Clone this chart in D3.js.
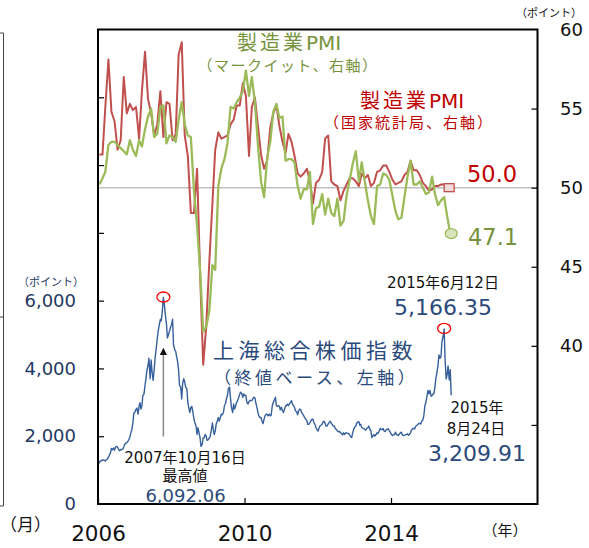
<!DOCTYPE html>
<html><head><meta charset="utf-8">
<script src="https://cdn.jsdelivr.net/npm/d3@7"></script>
<style>body{margin:0;background:#fff;} svg{display:block}</style>
</head><body><svg id="c" width="589" height="548"></svg>
<script>
// NBS manufacturing PMI, monthly Jan 2006 - Jul 2015
const nbsPMI = [
 52.1,52.1,55.1,58.1,54.8,54.2,52.4,53.0,57.0,54.7,55.3,54.9,
 55.1,53.1,56.1,58.6,55.6,54.7,53.3,54.0,56.1,53.2,55.4,55.3,
 53.0,53.4,58.4,59.2,53.3,52.0,48.4,48.4,51.2,44.6,38.8,41.2,
 45.3,49.0,52.4,53.5,53.1,53.2,53.3,54.0,54.3,55.2,55.2,56.6,
 55.8,52.0,55.1,55.7,53.9,52.1,51.2,51.7,53.8,54.7,55.2,53.9,
 52.9,52.2,53.4,52.9,52.0,50.9,50.7,50.9,51.2,50.4,49.0,50.3,
 50.5,51.0,53.1,53.3,50.4,50.2,50.1,49.2,49.8,50.2,50.6,50.6,
 50.4,50.1,50.9,50.6,50.8,50.1,50.3,51.0,51.1,51.4,51.4,51.0,
 50.5,50.2,50.3,50.4,50.8,51.0,51.7,51.1,51.1,50.8,50.3,50.1,
 49.8,49.9,50.1,50.1,50.2,50.2,50.0
];
// Markit manufacturing PMI, monthly Jan 2006 - Aug 2015
const markitPMI = [
 50.2,50.6,51.0,52.7,52.9,52.9,52.7,52.5,52.3,52.1,53.0,52.4,
 52.0,53.0,52.6,53.7,54.5,55.0,53.2,53.4,55.1,55.2,52.8,53.3,
 53.2,52.9,54.3,55.4,54.0,53.3,53.2,49.8,47.6,44.8,40.9,41.2,
 42.2,45.1,44.8,50.1,51.2,51.8,52.8,55.1,55.0,55.4,55.7,56.1,
 57.4,55.8,57.0,55.4,52.7,50.4,49.4,51.9,52.9,54.8,55.3,54.4,
 54.5,51.7,51.8,51.8,51.6,50.1,49.3,49.9,49.9,51.0,47.7,48.7,
 48.8,49.6,48.3,49.3,48.4,48.2,49.3,47.6,47.9,49.5,50.5,51.5,
 52.3,50.4,51.6,50.4,49.2,48.2,47.7,50.1,50.2,50.9,50.8,50.5,
 49.5,48.5,48.0,48.1,49.4,50.7,51.7,50.2,50.2,50.4,50.0,49.6,
 49.7,50.7,49.6,48.9,49.2,49.4,48.2,47.1
];
// Shanghai Composite close, three readings per month (~5th, ~15th, ~24th), Jan 2006 - Aug 2015
const stockIndex = [
 1180,1235,1258, 1290,1285,1300, 1290,1270,1298, 1330,1380,1440, 1500,1640,1600, 1650,1590,1672,
 1700,1680,1620, 1570,1610,1601, 1620,1680,1752, 1800,1810,1837, 1900,1980,2099, 2200,2400,2675,
 2715,2794,2830, 2650,2900,2990, 2800,2900,3200, 3250,3500,3700, 3950,4100,4300, 3700,4250,3900,
 3650,3950,4300, 4600,4870,5100, 5300,5450,5400, 5700,6092,5900, 5550,5300,4900, 5000,5100,5200,
 5300,5450,4700, 4550,4500,4350, 4200,3950,3500, 3450,3100,3550, 3700,3600,3450, 3400,3000,2850,
 2700,2850,2880, 2700,2500,2400, 2300,2050,2250, 2100,1950,1700, 1750,1950,1950, 2050,2000,1880,
 1900,1950,1990, 2200,2390,2200, 2050,2150,2350, 2450,2550,2450, 2550,2650,2630, 2700,2900,2950,
 3100,3200,3400, 3450,3100,2850, 2700,2950,2800, 2900,3000,3050, 3150,3250,3300, 3250,3150,3250,
 3200,3200,3000, 2950,3020,3060, 3050,3050,3100, 3150,3130,2980, 2850,2700,2600, 2550,2550,2450,
 2370,2500,2600, 2650,2650,2600, 2650,2600,2620, 2900,3000,3050, 3150,2900,2880, 2900,2890,2780,
 2850,2750,2700, 2800,2900,2900, 2950,2900,2950, 3000,3050,2950, 2900,2850,2750, 2720,2630,2750,
 2800,2790,2700, 2650,2600,2550, 2500,2450,2350, 2350,2400,2450, 2500,2500,2400, 2350,2250,2200,
 2150,2250,2300, 2330,2360,2430, 2440,2380,2300, 2300,2370,2400, 2440,2380,2350, 2300,2300,2230,
 2200,2160,2130, 2140,2110,2080, 2040,2100,2050, 2100,2100,2080, 2080,2030,1990, 1960,2100,2200,
 2270,2300,2380, 2420,2430,2320, 2350,2260,2240, 2220,2200,2180, 2230,2250,2300, 2200,2150,1960,
 2010,2050,2000, 2050,2100,2080, 2150,2230,2200, 2200,2230,2150, 2140,2200,2200, 2220,2160,2120,
 2050,2020,2040, 2050,2120,2050, 2040,2020,2060, 2100,2120,2040, 2020,2030,2040, 2050,2070,2030,
 2060,2100,2180, 2220,2230,2210, 2300,2310,2350, 2370,2380,2360, 2450,2480,2600, 2900,3000,3150,
 3350,3250,3350, 3180,3200,3250, 3250,3450,3700, 3900,4100,4400, 4300,4350,4800, 4950,5166,4300,
 3690,3820,4070, 3660,3965,3210
];
const stockDays = [5, 15, 24];
const leftTicks = [0, 2000, 4000, 6000];
const leftTickMarks = [2000, 4000, 6000, 8000, 10000, 12000];
const rightTicks = [40, 45, 50, 55, 60];
const rightTickMarks = [35, 40, 45, 50, 55];
const yearTicks = [2006, 2010, 2014];

const svg = d3.select('#c');
const L = 98, R = 537.5, T = 29.5, B = 504;
const x = d3.scaleTime().domain([new Date(2006,0,1), new Date(2018,0,1)]).range([L, R]);
const yL = d3.scaleLinear().domain([0, 14000]).range([B, T]);
const yR = d3.scaleLinear().domain([30, 60]).range([B, T]);
const monthDate = i => new Date(2006, i, 15);
const stockDate = j => new Date(2006, Math.floor(j/3), stockDays[j%3]);

const NUM = 'DejaVu Sans, Verdana, sans-serif';
const JP = '"DejaVu Sans", "Noto Sans CJK JP", sans-serif';
const BLUE_TXT = '#2b4a7c';

// partial frame of neighbouring chart at left edge
const lf = svg.append('g').attr('stroke', '#444').attr('stroke-width', 1);
lf.append('line').attr('x1', 3.5).attr('x2', 3.5).attr('y1', 33).attr('y2', 506);
[33, 317, 506].forEach(v => lf.append('line').attr('x1', 0).attr('x2', 3.5).attr('y1', v).attr('y2', v));

// 50 reference line
svg.append('line').attr('x1', L).attr('x2', R).attr('y1', yR(50)).attr('y2', yR(50))
  .attr('stroke', '#bfbfbf').attr('stroke-width', 1.5);

// lines
const pmiLine = d3.line().x((d,i) => x(monthDate(i))).y(d => yR(d));
svg.append('path').datum(nbsPMI).attr('d', pmiLine).attr('fill', 'none')
  .attr('stroke', '#c0504d').attr('stroke-width', 2).attr('stroke-linejoin', 'round');
svg.append('path').datum(markitPMI).attr('d', pmiLine).attr('fill', 'none')
  .attr('stroke', '#9bbb59').attr('stroke-width', 2.3).attr('stroke-linejoin', 'round');
const stockLine = d3.line().x((d,j) => x(stockDate(j))).y(d => yL(d));
svg.append('path').datum(stockIndex).attr('d', stockLine).attr('fill', 'none')
  .attr('stroke', '#36609c').attr('stroke-width', 1.4).attr('stroke-linejoin', 'round');

// end markers
const nLast = nbsPMI.length - 1, mLast = markitPMI.length - 1;
svg.append('rect').attr('x', x(monthDate(nLast)) - 3).attr('y', yR(nbsPMI[nLast]) - 4)
  .attr('width', 10).attr('height', 8).attr('fill', '#f2dcdb').attr('stroke', '#c0504d').attr('stroke-width', 1.3);
svg.append('ellipse').attr('cx', x(monthDate(mLast)) + 1).attr('cy', yR(markitPMI[mLast]))
  .attr('rx', 6).attr('ry', 5).attr('fill', '#d7e4bd').attr('stroke', '#9bbb59').attr('stroke-width', 1.3);

// peak circles
const idx07 = d3.maxIndex(stockIndex.slice(0, 72));
const idx15 = 324 + d3.maxIndex(stockIndex.slice(324));
[idx07, idx15].forEach(j => {
  svg.append('ellipse').attr('cx', x(stockDate(j))).attr('cy', yL(stockIndex[j]) - 0.5)
    .attr('rx', 6.5).attr('ry', 5).attr('fill', 'none').attr('stroke', '#ff0000').attr('stroke-width', 1.3);
});

// arrow to 2007 peak
const ax = x(stockDate(idx07));
svg.append('defs').append('marker').attr('id', 'ah').attr('viewBox', '0 0 10 10')
  .attr('refX', 5).attr('refY', 5).attr('markerWidth', 5).attr('markerHeight', 5).attr('orient', 'auto')
  .append('path').attr('d', 'M0,0 L10,5 L0,10 z').attr('fill', '#111');
svg.append('line').attr('x1', ax).attr('x2', ax).attr('y1', yL(1990)).attr('y2', yL(4500))
  .attr('stroke', '#888').attr('stroke-width', 1.5).attr('marker-end', 'url(#ah)');

// frame
svg.append('rect').attr('x', L).attr('y', T).attr('width', R - L).attr('height', B - T)
  .attr('fill', 'none').attr('stroke', '#000').attr('stroke-width', 2);

// axes
const gl = svg.append('g').attr('transform', `translate(${L},0)`)
  .call(d3.axisLeft(yL).tickValues(leftTickMarks).tickSize(-6).tickFormat(''));
gl.select('.domain').remove();
gl.selectAll('line').attr('stroke', '#000').attr('stroke-width', 1.2);
const gl2 = svg.append('g').attr('transform', `translate(${L},0)`)
  .call(d3.axisLeft(yL).tickValues(leftTicks).tickSize(0).tickPadding(22).tickFormat(d3.format(',')));
gl2.select('.domain').remove();
gl2.selectAll('text').attr('font-family', NUM).attr('font-size', 18).attr('fill', '#1f3864');

const gr = svg.append('g').attr('transform', `translate(${R},0)`)
  .call(d3.axisRight(yR).tickValues(rightTickMarks).tickSize(-6).tickFormat(''));
gr.select('.domain').remove();
gr.selectAll('line').attr('stroke', '#000').attr('stroke-width', 1.2);
const gr2 = svg.append('g').attr('transform', `translate(${R},0)`)
  .call(d3.axisRight(yR).tickValues(rightTicks).tickSize(0).tickPadding(22.5));
gr2.select('.domain').remove();
gr2.selectAll('text').attr('font-family', NUM).attr('font-size', 18).attr('fill', '#111');

const gb = svg.append('g').attr('transform', `translate(0,${B})`)
  .call(d3.axisBottom(x).tickValues(yearTicks.map(y => new Date(y,0,1))).tickSize(-6).tickPadding(22)
  .tickFormat(d3.timeFormat('%Y')));
gb.select('.domain').remove();
gb.selectAll('line').attr('stroke', '#000').attr('stroke-width', 1.2);
gb.selectAll('text').attr('font-family', NUM).attr('font-size', 21.5).attr('fill', '#111');

// text helper
function txt(s, xx, yy, o) {
  const t = svg.append('text').attr('x', xx).attr('y', yy)
    .attr('font-family', o.f || JP).attr('font-size', o.s).attr('fill', o.c || '#111')
    .attr('text-anchor', o.a || 'middle');
  if (Array.isArray(s)) {
    s.forEach(p => { const ts = t.append('tspan').text(p[0]); if (p[1]) ts.attr('letter-spacing', p[1]); });
  } else t.text(s);
  if (o.ls) t.attr('letter-spacing', o.ls);
  return t;
}
txt('（ポイント）', 51, 286, {s: 11, c: '#1f3864'});
txt('（ポイント）', 549, 17, {s: 11});
txt('（月）', 0, 531, {s: 17, a: 'start'});
txt('（年）', 505, 536, {s: 15});

txt([['製造業', 3], ['PMI', 0]], 289, 50, {s: 20, c: '#77933c'});
txt('（マークイット、右軸）', 288, 71, {s: 15, c: '#77933c', ls: 1.5});
txt([['製造業', 3], ['PMI', 0]], 412, 108, {s: 20, c: '#c00000'});
txt('（国家統計局、右軸）', 409, 128, {s: 15, c: '#c00000', ls: 2});
txt('50.0', 467, 182, {s: 22.5, c: '#c00000', a: 'start', f: NUM});
txt('47.1', 468, 245, {s: 22.5, c: '#77933c', a: 'start', f: NUM});

txt('2015年6月12日', 443, 288, {s: 15});
txt('5,166.35', 443, 315, {s: 22, c: BLUE_TXT, f: NUM});
txt('上海総合株価指数', 213, 358, {s: 21, c: BLUE_TXT, a: 'start', ls: 4.5});
txt('（終値ベース、左軸）', 214, 384, {s: 17, c: BLUE_TXT, a: 'start', ls: 3.5});
txt('2015年', 477, 413, {s: 15});
txt('8月24日', 476, 434, {s: 15});
txt('3,209.91', 477, 461, {s: 22, c: BLUE_TXT, f: NUM});
txt('2007年10月16日', 185, 463, {s: 15});
txt('最高値', 185, 481, {s: 15});
txt('6,092.06', 185.5, 501.5, {s: 18, c: BLUE_TXT, f: NUM});
</script>
</body></html>
